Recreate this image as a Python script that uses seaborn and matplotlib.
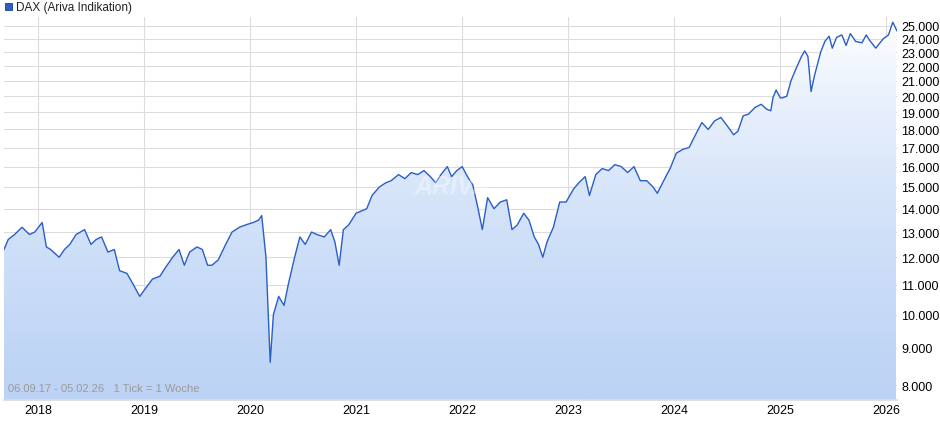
import numpy as np
import matplotlib
matplotlib.use("Agg")
import matplotlib.pyplot as plt
import seaborn as sns
from matplotlib.ticker import FixedLocator, NullLocator
from matplotlib.colors import LinearSegmentedColormap

# fractional years and DAX values
years = [2017.68, 2017.72, 2017.78, 2017.85, 2017.92, 2017.97, 2018.04, 2018.08, 2018.12, 2018.2, 2018.25,
         2018.3, 2018.36, 2018.44, 2018.5, 2018.55, 2018.6, 2018.66, 2018.72, 2018.77, 2018.84, 2018.9, 2018.96,
         2019.02, 2019.08, 2019.15, 2019.2, 2019.27, 2019.33, 2019.38, 2019.43, 2019.5, 2019.55, 2019.6, 2019.64,
         2019.7, 2019.77, 2019.83, 2019.9, 2019.96, 2020.03, 2020.08, 2020.11, 2020.15, 2020.19, 2020.22, 2020.27,
         2020.32, 2020.36, 2020.42, 2020.47, 2020.52, 2020.58, 2020.63, 2020.7, 2020.76, 2020.8, 2020.84, 2020.88,
         2020.93, 2021.0, 2021.05, 2021.1, 2021.15, 2021.22, 2021.28, 2021.33, 2021.4, 2021.46, 2021.52, 2021.58,
         2021.64, 2021.7, 2021.75, 2021.8, 2021.86, 2021.9, 2021.95, 2022.0, 2022.05, 2022.1, 2022.15, 2022.19,
         2022.24, 2022.3, 2022.36, 2022.42, 2022.47, 2022.52, 2022.58, 2022.63, 2022.68, 2022.72, 2022.76,
         2022.8, 2022.86, 2022.92, 2022.98, 2023.05, 2023.1, 2023.16, 2023.2, 2023.26, 2023.32, 2023.38, 2023.44,
         2023.5, 2023.56, 2023.62, 2023.68, 2023.74, 2023.8, 2023.84, 2023.9, 2023.96, 2024.02, 2024.08, 2024.14,
         2024.2, 2024.26, 2024.32, 2024.38, 2024.44, 2024.5, 2024.56, 2024.6, 2024.65, 2024.7, 2024.76, 2024.82,
         2024.87, 2024.91, 2024.93, 2024.96, 2025.0, 2025.02, 2025.06, 2025.1, 2025.14, 2025.17, 2025.2, 2025.23,
         2025.26, 2025.29, 2025.32, 2025.38, 2025.42, 2025.46, 2025.49, 2025.53, 2025.58, 2025.62, 2025.66, 2025.71,
         2025.77, 2025.81, 2025.84, 2025.9, 2025.97, 2026.02, 2026.06, 2026.1]
values = [12300, 12700, 12900, 13200, 12900, 13000, 13400, 12400, 12300, 12000, 12300,
          12500, 12900, 13100, 12500, 12700, 12800, 12200, 12300, 11500, 11400, 11000, 10600,
          10900, 11200, 11300, 11600, 12000, 12300, 11700, 12200, 12400, 12300, 11700, 11700,
          11900, 12500, 13000, 13200, 13300, 13400, 13500, 13700, 12000, 8600, 10000, 10600,
          10300, 11000, 12000, 12800, 12500, 13000, 12900, 12800, 13100, 12600, 11700, 13100,
          13300, 13800, 13900, 14000, 14600, 15000, 15200, 15300, 15600, 15400, 15700, 15600,
          15800, 15500, 15200, 15600, 16000, 15500, 15800, 16000, 15500, 15100, 14000, 13100,
          14500, 14000, 14300, 14400, 13100, 13300, 13800, 13500, 12800, 12500, 12000,
          12600, 13200, 14300, 14300, 14900, 15200, 15500, 14600, 15600, 15900, 15800, 16100,
          16000, 15700, 16000, 15300, 15300, 15000, 14700, 15300, 15900, 16700, 16900, 17000,
          17700, 18400, 18000, 18500, 18700, 18200, 17700, 17900, 18800, 18900, 19300, 19500,
          19200, 19100, 19900, 20400, 19900, 19900, 20000, 21000, 21700, 22200, 22700, 23100,
          22700, 20300, 21300, 23000, 23800, 24200, 23300, 24100, 24300, 23500, 24400, 23800,
          23700, 24300, 23900, 23300, 24000, 24300, 25300, 24600]
ytick_vals = list(range(8000, 26000, 1000))
xtick_years = list(range(2018, 2027))

sns.set_theme(style="white")
plt.rcParams['font.family'] = ['Liberation Sans', 'DejaVu Sans']

fig = plt.figure(figsize=(9.4, 4.35), dpi=100)
ax = fig.add_axes([4/940, 34/435, 893/940, 383/435])
ymin, ymax = 7630, 25720
xmin, xmax = 2017.68, 2026.10
ax.set_yscale('log')
ax.set_xlim(xmin, xmax)
ax.set_ylim(ymin, ymax)

grad = np.linspace(0, 1, 256).reshape(-1, 1)
cmap = LinearSegmentedColormap.from_list("g", ["#bcd3f5", "#dfeafb", "#ffffff"])
im = ax.imshow(grad, extent=[xmin, xmax, ymin, ymax], aspect='auto', origin='lower',
               cmap=cmap, zorder=1)
poly = ax.fill_between(years, values, ymin, color='none', zorder=0)
im.set_clip_path(poly.get_paths()[0], transform=ax.transData)

sns.lineplot(x=years, y=values, ax=ax, color="#2a5ec8", linewidth=1.0, zorder=3)

ax.yaxis.set_major_locator(FixedLocator(ytick_vals))
ax.yaxis.set_minor_locator(NullLocator())
ax.set_yticklabels([f"{v:,}".replace(",", ".") for v in ytick_vals])
ax.yaxis.tick_right()
ax.set_xticks(xtick_years)
ax.set_xticklabels([str(y) for y in xtick_years])
ax.tick_params(axis='both', length=0, labelsize=9, colors='black', pad=3)
ax.grid(True, color='#dcdcdc', linewidth=0.8, zorder=2)
for s in ax.spines.values():
    s.set_visible(False)
ax.spines['bottom'].set_visible(True)
ax.spines['bottom'].set_color('#dcdcdc')

ax.text(2017.72, 7850, "06.09.17 - 05.02.26   1 Tick = 1 Woche", color='#9a9a9a', fontsize=8, zorder=4)
ax.text(2021.55, 14700, "ARIVA", color='white', alpha=0.35, fontsize=18, fontweight='bold',
        fontstyle='italic', zorder=4)

fig.patches.append(plt.Rectangle((5/940, 424/435), 7/940, 7/435, transform=fig.transFigure,
                                 facecolor='#2a5ec8', edgecolor='#1a3d80', linewidth=0.6))
fig.text(16/940, 427.5/435, "DAX (Ariva Indikation)", fontsize=8.5, va='center', color='#222222')

fig.savefig("out.png", dpi=100)
